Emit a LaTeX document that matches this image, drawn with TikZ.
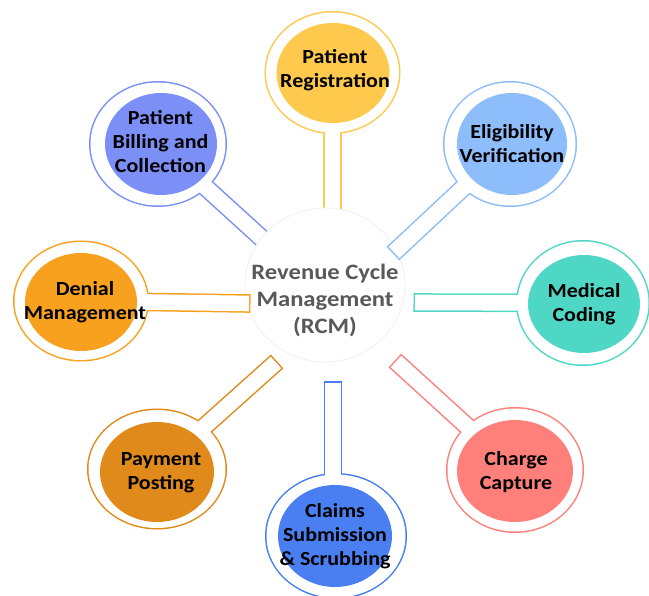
\documentclass[tikz,border=0pt]{standalone}
\usepackage{fontspec}
\usepackage{graphicx}
\setmainfont{Carlito}
\usetikzlibrary{calc,shapes.geometric}
\definecolor{cReg}{HTML}{FFC94D}
\definecolor{cElig}{HTML}{8DBDFA}
\definecolor{cMed}{HTML}{4FD7C5}
\definecolor{cChg}{HTML}{FF7F7A}
\definecolor{cClm}{HTML}{4A7FF2}
\definecolor{cPay}{HTML}{E08A1C}
\definecolor{cDen}{HTML}{F8A11E}
\definecolor{cBil}{HTML}{7B8FF6}
\definecolor{cHub}{HTML}{595959}
\newcommand\hw{7.8pt}
\newcommand\satring[6]{%
  \draw[ringline=#1] (#2) ellipse [x radius=#3, y radius=#4];
  \draw[ringline=#1] ($(#5)!\hw!90:(#6)$) -- ($(#6)!\hw!-90:(#5)$) -- ($(#6)!\hw!90:(#5)$) -- ($(#5)!\hw!-90:(#6)$) -- cycle;
  \fill[white] (#2) ellipse [x radius=#3, y radius=#4];
  \fill[white] ($(#5)!\hw!90:(#6)$) -- ($(#6)!\hw!-90:(#5)$) -- ($(#6)!\hw!90:(#5)$) -- ($(#5)!\hw!-90:(#6)$) -- cycle;
}
\newcommand\sattext[1]{\scalebox{1.1}[1]{\begin{tabular}{@{}c@{}}#1\end{tabular}}}
\tikzset{
  ringline/.style={draw=#1, line width=3pt, line join=miter},
  sattxt/.style={font=\bfseries\fontsize{20}{24}\selectfont, text=black, inner sep=0pt},
  hubtxt/.style={font=\bfseries\fontsize{22}{27}\selectfont, text=cHub, inner sep=0pt},
}
\begin{document}
\begin{tikzpicture}[x=1pt,y=-1pt]
\useasboundingbox (0,0) rectangle (649,596);
\fill[white] (0,0) rectangle (649,596);
% satellite centres and stem ends
\coordinate (c1) at (332.5,72.5); \coordinate (e1) at (332.5,240);
\coordinate (c2) at (510,144);    \coordinate (e2) at (394,252.5);
\coordinate (c3) at (583,303);    \coordinate (e3) at (415,302.5);
\coordinate (c4) at (515,470);    \coordinate (e4) at (396,361.5);
\coordinate (c5) at (336,536);    \coordinate (s5) at (333,536); \coordinate (e5) at (333,383);
\coordinate (c6) at (157,469);    \coordinate (e6) at (276,362.5);
\coordinate (c7) at (81,301);     \coordinate (e7) at (249,303.5);
\coordinate (c8) at (158,144);    \coordinate (e8) at (268,244);
% open stems (ends hidden under the hub)
\satring{cReg}{c1}{66.5pt}{60pt}{c1}{e1}
\satring{cBil}{c8}{67.5pt}{61.5pt}{c8}{e8}
% hub
\node[ellipse, draw=black!6, fill=white, line width=0.8pt, minimum width=160pt, minimum height=154pt, inner sep=0pt] (hub) at (325,285) {};
% closed stems
\satring{cElig}{c2}{65.5pt}{61.5pt}{c2}{e2}
\satring{cMed}{c3}{65.5pt}{61.5pt}{c3}{e3}
\satring{cChg}{c4}{67.5pt}{61.5pt}{c4}{e4}
\satring{cClm}{c5}{69.5pt}{61.5pt}{s5}{e5}
\satring{cPay}{c6}{68.5pt}{59pt}{c6}{e6}
\satring{cDen}{c7}{66.5pt}{59pt}{c7}{e7}
% inner discs
\fill[cReg]  (333,73)  ellipse [x radius=56.5pt, y radius=50pt];
\fill[cElig] (512,144) ellipse [x radius=55pt, y radius=51pt];
\fill[cMed]  (584,304) ellipse [x radius=56pt, y radius=49pt];
\fill[cChg]  (515,471) ellipse [x radius=58pt, y radius=51pt];
\fill[cClm]  (335,536) ellipse [x radius=57pt, y radius=51pt];
\fill[cPay]  (157,472) ellipse [x radius=57pt, y radius=50pt];
\fill[cDen]  (81,302)  ellipse [x radius=56pt, y radius=49pt];
\fill[cBil]  (161,144) ellipse [x radius=56pt, y radius=51pt];
% texts
\node[sattxt] (t1) at (335,71)    {\sattext{Patient\\Registration}};
\node[sattxt] (t2) at (512,146)   {\sattext{Eligibility\\Verification}};
\node[sattxt] (t3) at (584,305)   {\sattext{Medical\\Coding}};
\node[sattxt] (t4) at (516,473)   {\sattext{Charge\\Capture}};
\node[sattxt] (t5) at (335,537)   {\sattext{Claims\\Submission\\\&\ Scrubbing}};
\node[sattxt] (t6) at (161,473)   {\sattext{Payment\\Posting}};
\node[sattxt] (t7) at (85,303)    {\sattext{Denial\\Management}};
\node[sattxt] (t8) at (160.5,144) {\sattext{Patient\\Billing and\\Collection}};
\node[hubtxt] (rcm) at (325,301) {\scalebox{1.12}[1]{\begin{tabular}{@{}c@{}}Revenue Cycle\\Management\\(RCM)\end{tabular}}};
\end{tikzpicture}
\end{document}
